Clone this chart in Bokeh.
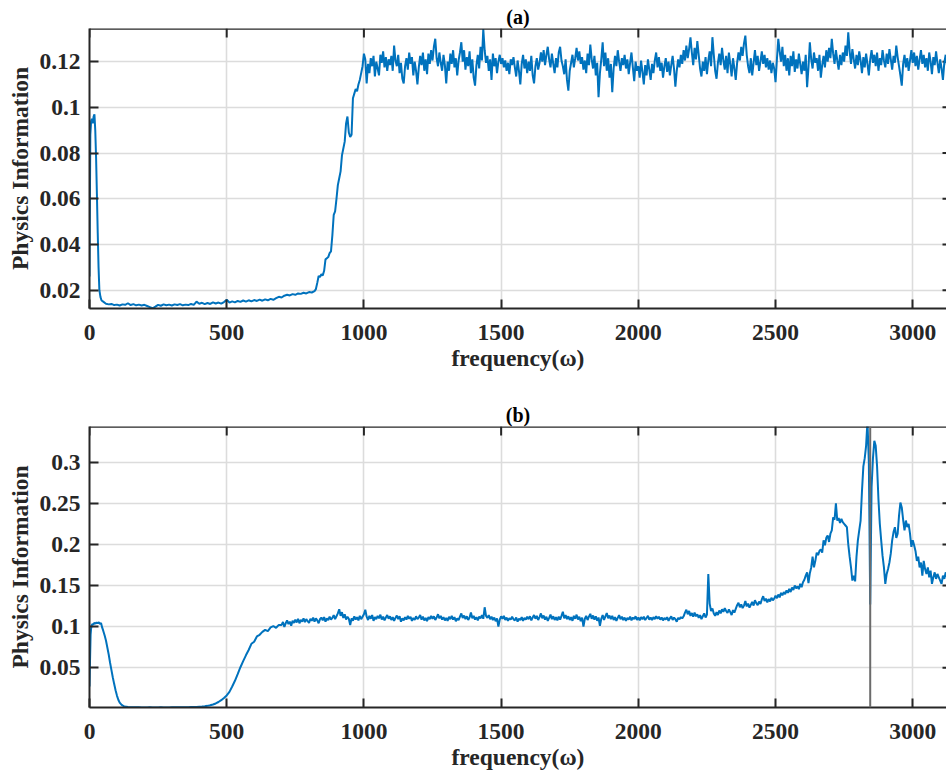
from bokeh.plotting import figure
from bokeh.models import Range1d, FixedTicker, Span
from bokeh.layouts import column
from bokeh.embed import file_html
from bokeh.resources import INLINE

# ---------------- data ----------------
x_ticks = [0, 500, 1000, 1500, 2000, 2500, 3000]
a_yticks = [0.02, 0.04, 0.06, 0.08, 0.1, 0.12]
a_ylabels = ["0.02", "0.04", "0.06", "0.08", "0.1", "0.12"]
b_yticks = [0.05, 0.1, 0.15, 0.2, 0.25, 0.3]
b_ylabels = ["0.05", "0.1", "0.15", "0.2", "0.25", "0.3"]

# panel (a)
a_peak_x = [0, 1, 3, 6, 9, 12, 15, 18, 21, 24, 27, 30, 33, 36, 40, 44]
a_peak_y = [0.026, 0.050, 0.088, 0.094, 0.095, 0.093, 0.096, 0.097, 0.090, 0.078,
            0.062, 0.045, 0.030, 0.020, 0.0170, 0.0155]
a_low_start, a_low_step = 50, 10
a_low = [0.0150, 0.0141, 0.0138, 0.0140, 0.0135, 0.0137, 0.0133, 0.0138, 0.0136, 0.0143,
         0.0135, 0.0139, 0.0134, 0.0137, 0.0133, 0.0136, 0.0131, 0.0126, 0.0121, 0.0128,
         0.0136, 0.0132, 0.0138, 0.0134, 0.0137, 0.0133, 0.0138, 0.0135, 0.0139, 0.0134,
         0.0137, 0.0135, 0.0140, 0.0136, 0.0150, 0.0141, 0.0145, 0.0139, 0.0144, 0.0140,
         0.0147, 0.0142, 0.0146, 0.0141, 0.0148, 0.0158, 0.0146, 0.0151, 0.0147, 0.0153,
         0.0149, 0.0155, 0.0150, 0.0156, 0.0151, 0.0157, 0.0153, 0.0159, 0.0154, 0.0160,
         0.0156, 0.0162, 0.0158, 0.0165, 0.0171, 0.0168, 0.0176, 0.0180, 0.0177, 0.0183,
         0.0180, 0.0186, 0.0184, 0.0189, 0.0186, 0.0192, 0.0190, 0.0196]
a_rise_start, a_rise_step = 825, 5
a_rise = [0.0205, 0.0232, 0.0262, 0.0258, 0.0270, 0.0265, 0.0285, 0.0335, 0.0340, 0.0345,
          0.0362, 0.0370, 0.0440, 0.0530, 0.0545, 0.0600, 0.0660, 0.0690, 0.0720, 0.0790,
          0.0820, 0.0850, 0.0930, 0.0960, 0.0890, 0.0870, 0.0880, 0.1040, 0.1060, 0.1080,
          0.1070, 0.1100, 0.1120, 0.1150, 0.1180]
a_high_start, a_high_step = 1000, 5
a_high = [
    0.1235, 0.1210, 0.1105, 0.1190, 0.1150, 0.1215, 0.1180, 0.1225, 0.1135, 0.1200,
    0.1170, 0.1140, 0.1230, 0.1195, 0.1245, 0.1175, 0.1220, 0.1160, 0.1210, 0.1185,
    0.1225, 0.1160, 0.1270, 0.1205, 0.1180, 0.1230, 0.1150, 0.1195, 0.1125, 0.1105,
    0.1180, 0.1215, 0.1165, 0.1240, 0.1190, 0.1220, 0.1140, 0.1200, 0.1160, 0.1100,
    0.1175, 0.1225, 0.1185, 0.1240, 0.1160, 0.1210, 0.1145, 0.1235, 0.1190, 0.1250,
    0.1205, 0.1265, 0.1300, 0.1215, 0.1180, 0.1240, 0.1195, 0.1160, 0.1230, 0.1185,
    0.1105, 0.1200, 0.1160, 0.1235, 0.1190, 0.1250, 0.1175, 0.1215, 0.1140, 0.1205,
    0.1240, 0.1285, 0.1200, 0.1250, 0.1165, 0.1220, 0.1180, 0.1245, 0.1150, 0.1210,
    0.1130, 0.1095, 0.1185, 0.1230, 0.1170, 0.1265, 0.1205, 0.1343, 0.1250, 0.1195,
    0.1225, 0.1160, 0.1210, 0.1120, 0.1235, 0.1180, 0.1215, 0.1150, 0.1200, 0.1230,
    0.1190, 0.1215, 0.1175, 0.1205, 0.1160, 0.1195, 0.1145, 0.1210, 0.1185, 0.1220,
    0.1175, 0.1135, 0.1205, 0.1160, 0.1100, 0.1190, 0.1230, 0.1170, 0.1210, 0.1150,
    0.1200, 0.1160, 0.1225, 0.1140, 0.1105, 0.1180, 0.1215, 0.1165, 0.1195, 0.1240,
    0.1200, 0.1250, 0.1185, 0.1230, 0.1265, 0.1210, 0.1175, 0.1235, 0.1190, 0.1150,
    0.1215, 0.1175, 0.1240, 0.1265, 0.1205, 0.1180, 0.1145, 0.1210, 0.1120, 0.1073,
    0.1160, 0.1195, 0.1230, 0.1175, 0.1215, 0.1260, 0.1205, 0.1245, 0.1190, 0.1220,
    0.1165, 0.1205, 0.1150, 0.1235, 0.1185, 0.1275, 0.1210, 0.1170, 0.1225, 0.1140,
    0.1195, 0.1044, 0.1150, 0.1210, 0.1285, 0.1180, 0.1240, 0.1160, 0.1215, 0.1130,
    0.1190, 0.1066, 0.1170, 0.1225, 0.1180, 0.1250, 0.1200, 0.1160, 0.1215, 0.1185,
    0.1230, 0.1170, 0.1210, 0.1145, 0.1195, 0.1240, 0.1175, 0.1115, 0.1200, 0.1160,
    0.1180, 0.1130, 0.1205, 0.1155, 0.1100, 0.1185, 0.1140, 0.1210, 0.1165, 0.1120,
    0.1190, 0.1150, 0.1205, 0.1240, 0.1175, 0.1220, 0.1160, 0.1195, 0.1130, 0.1180,
    0.1215, 0.1155, 0.1200, 0.1140, 0.1185, 0.1225, 0.1170, 0.1090, 0.1160, 0.1210,
    0.1175, 0.1230, 0.1190, 0.1250, 0.1205, 0.1270, 0.1215, 0.1255, 0.1306, 0.1240,
    0.1185, 0.1260, 0.1210, 0.1290, 0.1230, 0.1170, 0.1135, 0.1200, 0.1160, 0.1220,
    0.1145, 0.1205, 0.1245, 0.1180, 0.1307, 0.1230, 0.1160, 0.1125, 0.1195, 0.1235,
    0.1185, 0.1260, 0.1205, 0.1165, 0.1225, 0.1150, 0.1240, 0.1190, 0.1135, 0.1215,
    0.1170, 0.1120, 0.1195, 0.1240, 0.1205, 0.1265, 0.1225, 0.1280, 0.1314, 0.1230,
    0.1180, 0.1150, 0.1215, 0.1140, 0.1195, 0.1250, 0.1185, 0.1225, 0.1160, 0.1200,
    0.1245, 0.1190, 0.1230, 0.1175, 0.1215, 0.1165, 0.1205, 0.1150, 0.1195, 0.1170,
    0.1110, 0.1210, 0.1300, 0.1245, 0.1200, 0.1265, 0.1180, 0.1230, 0.1160, 0.1215,
    0.1140, 0.1225, 0.1180, 0.1245, 0.1155, 0.1210, 0.1170, 0.1235, 0.1190, 0.1145,
    0.1200, 0.1160, 0.1230, 0.1088, 0.1175, 0.1285, 0.1210, 0.1170, 0.1240, 0.1195,
    0.1215, 0.1160, 0.1230, 0.1130, 0.1185, 0.1225, 0.1175, 0.1250, 0.1200, 0.1260,
    0.1215, 0.1300, 0.1235, 0.1190, 0.1250, 0.1205, 0.1165, 0.1230, 0.1185, 0.1240,
    0.1200, 0.1270, 0.1225, 0.1328, 0.1245, 0.1190, 0.1255, 0.1210, 0.1170, 0.1230,
    0.1185, 0.1245, 0.1205, 0.1150, 0.1220, 0.1175, 0.1235, 0.1190, 0.1140, 0.1210,
    0.1250, 0.1195, 0.1230, 0.1180, 0.1240, 0.1160, 0.1215, 0.1185, 0.1250, 0.1205,
    0.1175, 0.1235, 0.1190, 0.1255, 0.1210, 0.1165, 0.1225, 0.1195, 0.1270, 0.1220,
    0.1180, 0.1140, 0.1095, 0.1190, 0.1230, 0.1175, 0.1215, 0.1160, 0.1205, 0.1250,
    0.1195, 0.1240, 0.1180, 0.1225, 0.1165, 0.1210, 0.1250, 0.1190, 0.1230, 0.1175,
    0.1215, 0.1160, 0.1240, 0.1200, 0.1145, 0.1220, 0.1185, 0.1245, 0.1195, 0.1150,
    0.1210, 0.1170, 0.1120, 0.1195, 0.1230, 0.1180, 0.1215, 0.1165, 0.1205, 0.1185,
]

# panel (b)
b_peak_x = [0, 2, 4, 6, 8, 10, 14, 18, 22, 26, 30, 34, 38, 42, 46, 50, 55, 60, 65, 70,
            75, 80, 85, 90, 95, 100, 105, 110, 115, 120, 125, 130, 140]
b_peak_y = [0.027, 0.060, 0.090, 0.098, 0.101, 0.103, 0.1025, 0.1045, 0.1035, 0.1050,
            0.1040, 0.1052, 0.1030, 0.1045, 0.0990, 0.0950, 0.0895, 0.0830, 0.0745, 0.0660,
            0.0560, 0.0470, 0.0380, 0.0300, 0.0225, 0.0160, 0.0110, 0.0075, 0.0055, 0.0040,
            0.0032, 0.0027, 0.0022]
b_low_start, b_low_step = 150, 10
b_low = [0.0019, 0.0018, 0.0017, 0.0017, 0.0016, 0.0016, 0.0016, 0.0017, 0.0016, 0.0016,
         0.0016, 0.0017, 0.0016, 0.0016, 0.0016, 0.0017, 0.0017, 0.0017, 0.0018, 0.0018,
         0.0019, 0.0019, 0.0020, 0.0021, 0.0022, 0.0024, 0.0026, 0.0030, 0.0035, 0.0042,
         0.0051, 0.0064, 0.0082, 0.0104, 0.0131, 0.0162, 0.0205, 0.0270, 0.0340, 0.0420,
         0.0505, 0.0580, 0.0650, 0.0715, 0.0790, 0.0815, 0.0880, 0.0900, 0.0935, 0.0960,
         0.0945, 0.0990, 0.1005, 0.0985, 0.1020]
b_high_start, b_high_step = 700, 5
b_high = [
    0.1020, 0.1055, 0.0995, 0.1040, 0.1075, 0.1030, 0.1060, 0.1010, 0.1070, 0.1045,
    0.1085, 0.1050, 0.1095, 0.1040, 0.1080, 0.1060, 0.1100, 0.1055, 0.1090, 0.1065,
    0.1045, 0.1095, 0.1070, 0.1110, 0.1060, 0.1100, 0.1075, 0.1040, 0.1090, 0.1110,
    0.1075, 0.1115, 0.1060, 0.1100, 0.1080, 0.1120, 0.1085, 0.1105, 0.1140, 0.1090,
    0.1125, 0.1160, 0.1210, 0.1130, 0.1175, 0.1105, 0.1150, 0.1085, 0.1120, 0.1095,
    0.1020, 0.1100, 0.1070, 0.1125, 0.1085, 0.1115, 0.1075, 0.1130, 0.1090, 0.1120,
    0.1150, 0.1205, 0.1120, 0.1080, 0.1130, 0.1095, 0.1140, 0.1070, 0.1115, 0.1090,
    0.1130, 0.1100, 0.1145, 0.1085, 0.1120, 0.1075, 0.1110, 0.1140, 0.1095, 0.1125,
    0.1080, 0.1115, 0.1070, 0.1105, 0.1135, 0.1090, 0.1125, 0.1060, 0.1100, 0.1075,
    0.1115, 0.1085, 0.1130, 0.1095, 0.1120, 0.1070, 0.1105, 0.1080, 0.1125, 0.1090,
    0.1110, 0.1140, 0.1085, 0.1120, 0.1075, 0.1105, 0.1065, 0.1115, 0.1090, 0.1130,
    0.1095, 0.1125, 0.1080, 0.1110, 0.1150, 0.1100, 0.1130, 0.1085, 0.1115, 0.1075,
    0.1105, 0.1070, 0.1120, 0.1090, 0.1130, 0.1085, 0.1115, 0.1065, 0.1100, 0.1080,
    0.1120, 0.1160, 0.1105, 0.1135, 0.1090, 0.1125, 0.1080, 0.1110, 0.1170, 0.1100,
    0.1130, 0.1085, 0.1115, 0.1075, 0.1120, 0.1100, 0.1140, 0.1095, 0.1235, 0.1130,
    0.1105, 0.1140, 0.1090, 0.1120, 0.1080, 0.1110, 0.1065, 0.1100, 0.1000, 0.1085,
    0.1125, 0.1095, 0.1130, 0.1080, 0.1110, 0.1070, 0.1100, 0.1085, 0.1120, 0.1090,
    0.1075, 0.1110, 0.1060, 0.1095, 0.1080, 0.1115, 0.1070, 0.1105, 0.1085, 0.1120,
    0.1090, 0.1125, 0.1075, 0.1110, 0.1140, 0.1095, 0.1130, 0.1080, 0.1115, 0.1160,
    0.1100, 0.1135, 0.1085, 0.1120, 0.1070, 0.1105, 0.1145, 0.1090, 0.1125, 0.1080,
    0.1115, 0.1075, 0.1120, 0.1085, 0.1130, 0.1180, 0.1100, 0.1140, 0.1090, 0.1125,
    0.1080, 0.1115, 0.1070, 0.1130, 0.1095, 0.1145, 0.1085, 0.1120, 0.1065, 0.1110,
    0.1000, 0.1095, 0.1130, 0.1080, 0.1120, 0.1155, 0.1095, 0.1135, 0.1085, 0.1125,
    0.1070, 0.1110, 0.1010, 0.1095, 0.1140, 0.1080, 0.1125, 0.1165, 0.1100, 0.1135,
    0.1090, 0.1130, 0.1080, 0.1115, 0.1070, 0.1105, 0.1140, 0.1090, 0.1120, 0.1080,
    0.1110, 0.1070, 0.1105, 0.1085, 0.1120, 0.1075, 0.1110, 0.1090, 0.1125, 0.1080,
    0.1110, 0.1075, 0.1115, 0.1090, 0.1120, 0.1080, 0.1105, 0.1130, 0.1085, 0.1110,
    0.1080, 0.1115, 0.1090, 0.1125, 0.1095, 0.1120, 0.1085, 0.1110, 0.1075, 0.1105,
    0.1085, 0.1115, 0.1070, 0.1100, 0.1125, 0.1080, 0.1110, 0.1090, 0.1060, 0.1105,
    0.1090, 0.1115, 0.1100, 0.1125, 0.1170, 0.1205, 0.1150, 0.1190, 0.1130, 0.1165,
    0.1120, 0.1170, 0.1125, 0.1150, 0.1105, 0.1140, 0.1090, 0.1125, 0.1160, 0.1110,
    0.1145, 0.1640, 0.1280, 0.1190, 0.1220, 0.1160, 0.1130, 0.1175, 0.1140, 0.1195,
    0.1160, 0.1210, 0.1180, 0.1225, 0.1190, 0.1165, 0.1210, 0.1175, 0.1140, 0.1200,
    0.1170, 0.1215, 0.1260, 0.1290, 0.1235, 0.1270, 0.1225, 0.1255, 0.1310, 0.1245,
    0.1280, 0.1230, 0.1265, 0.1300, 0.1255, 0.1320, 0.1285, 0.1260, 0.1305, 0.1275,
    0.1330, 0.1370, 0.1310, 0.1340, 0.1295, 0.1335, 0.1305, 0.1350, 0.1320, 0.1340,
    0.1375, 0.1345, 0.1390, 0.1355, 0.1410, 0.1380, 0.1420, 0.1395, 0.1440, 0.1410,
    0.1460, 0.1420, 0.1475, 0.1445, 0.1500, 0.1465, 0.1490, 0.1455, 0.1520, 0.1480,
    0.1540, 0.1570, 0.1620, 0.1660, 0.1530, 0.1650, 0.1720, 0.1850, 0.1720, 0.1800,
    0.1900, 0.1870, 0.1920, 0.1940, 0.1900, 0.2050, 0.1990, 0.2080, 0.2110, 0.2030,
    0.2130, 0.2170, 0.2330, 0.2300, 0.2500, 0.2290, 0.2320, 0.2260, 0.2310, 0.2270,
    0.2250, 0.2230, 0.2210, 0.2000, 0.1850, 0.1720, 0.1560, 0.1620, 0.1550, 0.1850,
    0.2050, 0.2170, 0.2290, 0.2650, 0.2950, 0.3050, 0.3200, 0.3500, 0.3000, 0.1270,
    0.2700, 0.3050, 0.3260, 0.3200, 0.2950, 0.2550, 0.2250, 0.2050, 0.1860, 0.1720,
    0.1520, 0.1640, 0.1700, 0.1780, 0.1890, 0.2050, 0.2150, 0.2210, 0.2080, 0.2130,
    0.2350, 0.2510, 0.2450, 0.2300, 0.2170, 0.2290, 0.2210, 0.2250, 0.2130, 0.1970,
    0.2050, 0.1990, 0.1920, 0.1800, 0.1850, 0.1720, 0.1780, 0.1620, 0.1800, 0.1700,
    0.1640, 0.1720, 0.1600, 0.1680, 0.1520, 0.1600, 0.1660, 0.1580, 0.1640, 0.1600,
    0.1560, 0.1520, 0.1620, 0.1580, 0.1660, 0.1600, 0.1550, 0.1620, 0.1570, 0.1600,
]
b_marker_freq = 2845  # grey vertical line in panel (b)

# ---------------- assemble series ----------------
def even(start, step, vals):
    return [start + step * i for i in range(len(vals))], list(vals)

def join(*parts):
    xs, ys = [], []
    for px, py in parts:
        n = min(len(px), len(py))
        xs += list(px[:n]); ys += list(py[:n])
    return xs, ys

a_x, a_y = join((a_peak_x, a_peak_y), even(a_low_start, a_low_step, a_low),
                even(a_rise_start, a_rise_step, a_rise), even(a_high_start, a_high_step, a_high))
b_x, b_y = join((b_peak_x, b_peak_y), even(b_low_start, b_low_step, b_low),
                even(b_high_start, b_high_step, b_high))

# ---------------- styling ----------------
FONT = "Liberation Serif"
INK = "#262626"
BLUE = "#0072BD"
GRID = "#dcdcdc"
FS = "23.5px"
X_END = 3123
FIG_W = 946
LEFT_B = 89

def style_axis(ax):
    ax.axis_line_color = INK
    ax.axis_line_width = 2
    ax.major_tick_line_color = INK
    ax.major_tick_line_width = 2
    ax.major_tick_in = 9
    ax.major_tick_out = 0
    ax.minor_tick_line_color = None
    ax.major_label_text_font = FONT
    ax.major_label_text_font_style = "bold"
    ax.major_label_text_font_size = FS
    ax.major_label_text_color = INK
    ax.axis_label_text_font = FONT
    ax.axis_label_text_font_style = "bold"
    ax.axis_label_text_font_size = FS
    ax.axis_label_text_color = INK

def panel(title, xs, ys, y_lo, y_hi, yticks, ylabels, height, top_b, bottom_b):
    p = figure(width=FIG_W, height=height, x_range=Range1d(0, X_END),
               y_range=Range1d(y_lo, y_hi), output_backend="svg",
               toolbar_location=None, min_border_left=LEFT_B, min_border_right=0,
               min_border_top=top_b, min_border_bottom=bottom_b)
    p.outline_line_color = None
    p.background_fill_color = "white"
    p.border_fill_color = "white"
    xt = FixedTicker(ticks=x_ticks)
    yt = FixedTicker(ticks=yticks)

    xa = p.xaxis[0]
    xa.ticker = xt
    xa.axis_label = "frequency(ω)"
    style_axis(xa)
    xa.major_label_standoff = 16
    xa.axis_label_standoff = 2

    ya = p.yaxis[0]
    ya.ticker = yt
    ya.major_label_overrides = {v: s for v, s in zip(yticks, ylabels)}
    ya.axis_label = "Physics Information"
    style_axis(ya)
    ya.major_label_standoff = 9
    ya.axis_label_standoff = 3

    p.xgrid.ticker = xt
    p.ygrid.ticker = yt
    p.grid.grid_line_color = GRID
    p.grid.grid_line_width = 1.6

    # box: top border line and inward ticks on the top and right edges
    frame_h = height - top_b - bottom_b
    frame_w = FIG_W - LEFT_B
    dy = (y_hi - y_lo) * 9.0 / frame_h
    dx = X_END * 4.0 / frame_w
    p.add_layout(Span(location=y_hi, dimension="width", line_color=INK, line_width=2.5))
    p.segment(x0=x_ticks, y0=[y_hi] * len(x_ticks), x1=x_ticks, y1=[y_hi - dy] * len(x_ticks),
              line_color=INK, line_width=2)
    p.segment(x0=[X_END] * len(yticks), y0=yticks, x1=[X_END - dx] * len(yticks), y1=yticks,
              line_color=INK, line_width=2)

    p.title.text = title
    p.title.align = "center"
    p.title.text_font = FONT
    p.title.text_font_size = "20px"
    p.title.text_font_style = "bold"
    p.title.text_color = "black"
    p.title.standoff = 2

    p.line(xs, ys, line_color=BLUE, line_width=2)
    return p

p1 = panel("(a)", a_x, a_y, 0.012, 0.1345, a_yticks, a_ylabels, 396, 28, 88)
p2 = panel("(b)", b_x, b_y, 0.0015, 0.3435, b_yticks, b_ylabels, 380, 30, 69)
p2.add_layout(Span(location=b_marker_freq, dimension="height",
                   line_color="#6b6b6b", line_width=2))

layout = column(p1, p2)
open("out.html", "w").write(file_html(layout, INLINE))
